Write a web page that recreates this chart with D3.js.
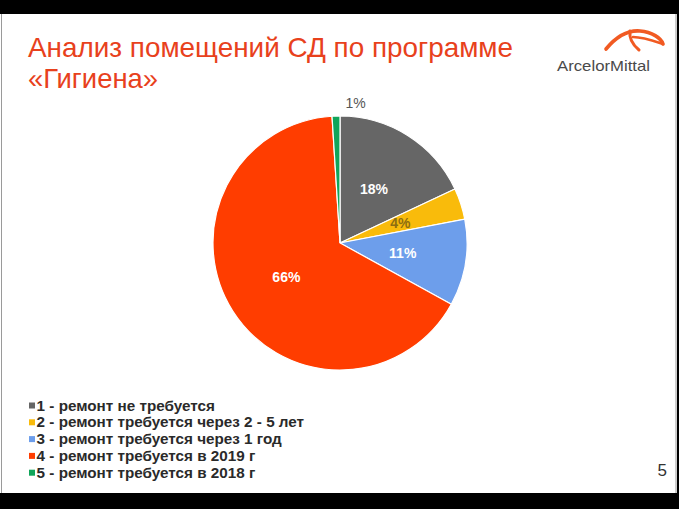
<!DOCTYPE html>
<html>
<head>
<meta charset="utf-8">
<script src="https://cdn.jsdelivr.net/npm/d3@7"></script>
<style>
  body { margin: 0; background: #000; }
  svg { display: block; }
</style>
</head>
<body>
<div id="chart"></div>
<script>
// data
const categories = [
    "1 - ремонт не требуется",
    "2 - ремонт требуется через 2 - 5 лет",
    "3 - ремонт требуется через 1 год",
    "4 - ремонт требуется в 2019 г",
    "5 - ремонт требуется в 2018 г"
];
const values = [18, 4, 11, 66, 1];
const colors = ["#666666", "#f9bb0b", "#6d9eeb", "#ff3d00", "#10a55a"];
const labelColors = ["#ffffff", "#8d6e12", "#ffffff", "#ffffff", "#555555"];
const titleLines = ["Анализ помещений СД по программе", "«Гигиена»"];
const pageNumber = "5";

const W = 679, H = 509;

const svg = d3.select("#chart").append("svg")
    .attr("width", W)
    .attr("height", H);

// slide area
svg.append("rect").attr("x", 0).attr("y", 14).attr("width", 677).attr("height", 479).attr("fill", "#fff");
svg.append("line").attr("x1", 1.5).attr("x2", 1.5).attr("y1", 14).attr("y2", 493).attr("stroke", "#9a9a9a");
svg.append("line").attr("x1", 676).attr("x2", 676).attr("y1", 14).attr("y2", 493).attr("stroke", "#9a9a9a");

// title
svg.selectAll("text.title")
    .data(titleLines)
    .enter()
    .append("text")
    .attr("class", "title")
    .attr("x", 28)
    .attr("y", (d, i) => 57 + i * 31)
    .attr("font-family", "Liberation Sans Narrow, Liberation Sans, Arial, sans-serif")
    .attr("font-size", 28)
    .attr("fill", "#e8411c")
    .attr("textLength", (d, i) => i === 0 ? 485 : 130)
    .attr("lengthAdjust", "spacingAndGlyphs")
    .text(d => d);

// logo
const logo = svg.append("g")
    .attr("fill", "none")
    .attr("stroke", "#f15a22")
    .attr("stroke-linecap", "round");
logo.append("path")
    .attr("d", "M606,49 C616,37 628,30 640,31 C652,32 661,38 663,44")
    .attr("stroke-width", 3.6);
logo.append("path")
    .attr("d", "M663,44 C654,41 643,37 633,37")
    .attr("stroke-width", 2.4);
logo.append("path")
    .attr("d", "M630,31 C629,38 633,45 639,50")
    .attr("stroke-width", 3);
svg.append("text")
    .attr("x", 557)
    .attr("y", 71)
    .attr("font-family", "Liberation Sans, Arial, sans-serif")
    .attr("font-size", 15)
    .attr("fill", "#4a4a4a")
    .attr("textLength", 93)
    .attr("lengthAdjust", "spacingAndGlyphs")
    .text("ArcelorMittal");

// pie
const cx = 340, cy = 243, r = 127;
const pie = d3.pie().sort(null).value(d => d)(values);
const arc = d3.arc().innerRadius(0).outerRadius(r);
const labelArc = d3.arc().innerRadius(r * 0.5).outerRadius(r * 0.5);
const outerArc = d3.arc().innerRadius(r + 13).outerRadius(r + 13);

const g = svg.append("g").attr("transform", `translate(${cx},${cy})`);

g.selectAll("path")
    .data(pie)
    .enter()
    .append("path")
    .attr("d", arc)
    .attr("fill", (d, i) => colors[i])
    .attr("stroke", "#fff")
    .attr("stroke-width", 1.2);

g.selectAll("text")
    .data(pie)
    .enter()
    .append("text")
    .attr("transform", d => {
        const small = d.data < 2;
        const [x, y] = small ? outerArc.centroid(d) : labelArc.centroid(d);
        return `translate(${small ? x + 20 : x},${y})`;
    })
    .attr("text-anchor", "middle")
    .attr("dy", "0.35em")
    .attr("font-family", "Liberation Sans, Arial, sans-serif")
    .attr("font-size", 14)
    .attr("font-weight", d => d.data < 2 ? "normal" : "bold")
    .attr("fill", (d, i) => labelColors[i])
    .text(d => d.data + "%");

// legend
const legend = svg.append("g").attr("transform", "translate(29,405.5)");
const rows = legend.selectAll("g")
    .data(categories)
    .enter()
    .append("g")
    .attr("transform", (d, i) => `translate(0,${i * 16.8})`);
rows.append("rect")
    .attr("x", 0)
    .attr("y", -3)
    .attr("width", 6)
    .attr("height", 6)
    .attr("fill", (d, i) => colors[i]);
rows.append("text")
    .attr("x", 7)
    .attr("dy", "0.36em")
    .attr("font-family", "Liberation Sans, Arial, sans-serif")
    .attr("font-size", 14)
    .attr("font-weight", "bold")
    .attr("fill", "#2a2a2a")
    .attr("transform", "scale(1.09,1)")
    .text(d => d);

// slide number
svg.append("text")
    .attr("x", 667)
    .attr("y", 476)
    .attr("text-anchor", "end")
    .attr("font-family", "Liberation Sans, Arial, sans-serif")
    .attr("font-size", 17)
    .attr("fill", "#333")
    .text(pageNumber);
</script>
</body>
</html>
